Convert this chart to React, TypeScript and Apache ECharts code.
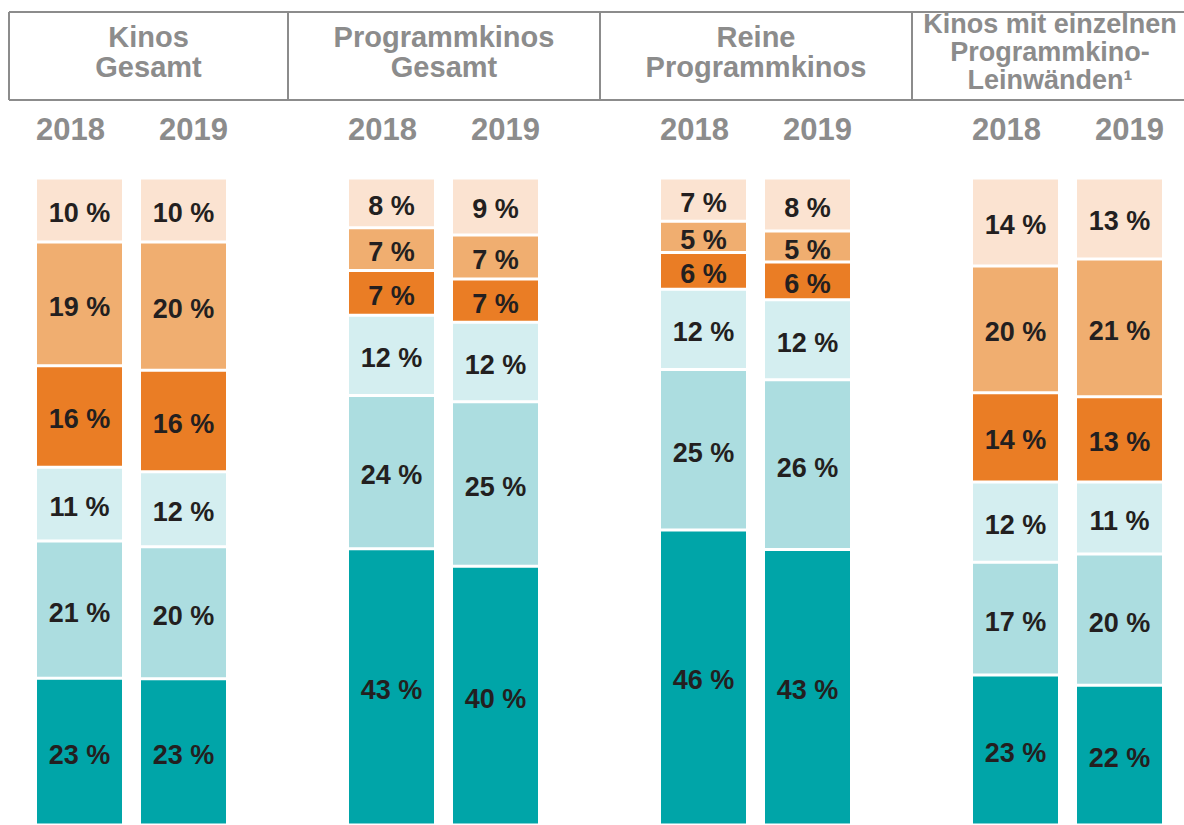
import React, { useEffect, useRef } from "react";
import * as echarts from "echarts";

const groupTitles = [
  "Kinos\nGesamt",
  "Programmkinos\nGesamt",
  "Reine\nProgrammkinos",
  "Kinos mit einzelnen\nProgrammkino-\nLeinwänden¹",
];
const years = ["2018", "2019"];

// bar order: G1-2018, G1-2019, G2-2018, G2-2019, G3-2018, G3-2019, G4-2018, G4-2019
const darkTeal = [22.7, 22.6, 42.7, 40.0, 45.6, 42.6, 23.2, 21.6];
const midTeal = [21.2, 20.4, 23.7, 25.4, 24.8, 26.2, 17.4, 20.3];
const lightTeal = [11.4, 11.6, 12.4, 12.3, 12.4, 12.4, 12.4, 11.1];
const darkOrange = [15.7, 15.7, 6.9, 6.7, 5.7, 5.8, 13.8, 13.2];
const midOrange = [19.1, 19.8, 6.6, 6.8, 4.8, 4.8, 19.6, 21.3];
const lightOrange = [9.9, 9.9, 7.7, 8.8, 6.7, 8.2, 13.6, 12.5];

const seriesDefs = [
  { name: "Segment 1", values: darkTeal, color: "#00a5a8" },
  { name: "Segment 2", values: midTeal, color: "#acdde0" },
  { name: "Segment 3", values: lightTeal, color: "#d4eef0" },
  { name: "Segment 4", values: darkOrange, color: "#ea7d25" },
  { name: "Segment 5", values: midOrange, color: "#f0ae70" },
  { name: "Segment 6", values: lightOrange, color: "#fbe3d1" },
];

const FONT = "Arial, 'Liberation Sans', Helvetica, sans-serif";
const GRAY = "#8c8c8c";

export default function App() {
  const ref = useRef<HTMLDivElement>(null);
  useEffect(() => {
    if (!ref.current) return;
    const chart = echarts.init(ref.current, undefined, { renderer: "svg" });

    // build category slots: 2 bars per group, an empty slot between groups
    const categories: string[] = [];
    const slotToBar: (number | null)[] = [];
    groupTitles.forEach((_, g) => {
      years.forEach((y, i) => {
        categories.push(y);
        slotToBar.push(g * 2 + i);
      });
      if (g < groupTitles.length - 1) {
        categories.push("");
        slotToBar.push(null);
      }
    });

    const series = seriesDefs.map((s) => ({
      name: s.name,
      type: "bar",
      stack: "total",
      barWidth: 88,
      data: slotToBar.map((b) => (b === null ? "-" : s.values[b])),
      itemStyle: { color: s.color, borderColor: "#ffffff", borderWidth: 1.5 },
      label: {
        show: true,
        position: "inside",
        offset: [0, 3],
        color: "#231f20",
        fontFamily: FONT,
        fontWeight: "bold",
        fontSize: 27,
        formatter: (p: any) => Math.round(p.value) + " %",
      },
    }));

    const boxLeft = 9;
    const dividers = [288, 600, 912];
    const titleCenters = [148.5, 444, 756, 1050];
    const graphics: any[] = [
      { type: "line", shape: { x1: boxLeft, y1: 12, x2: 1184, y2: 12 }, style: { stroke: GRAY, lineWidth: 2 } },
      { type: "line", shape: { x1: boxLeft, y1: 100, x2: 1184, y2: 100 }, style: { stroke: GRAY, lineWidth: 2 } },
      { type: "line", shape: { x1: boxLeft, y1: 12, x2: boxLeft, y2: 100 }, style: { stroke: GRAY, lineWidth: 2 } },
      ...dividers.map((x) => ({
        type: "line",
        shape: { x1: x, y1: 12, x2: x, y2: 100 },
        style: { stroke: GRAY, lineWidth: 2 },
      })),
      ...groupTitles.map((t, i) => ({
        type: "text",
        x: titleCenters[i],
        y: 52,
        style: {
          text: t,
          fill: GRAY,
          font: `bold ${i === 3 ? 27 : 29}px ${FONT}`,
          lineHeight: i === 3 ? 28 : 30,
          align: "center",
          verticalAlign: "middle",
        },
      })),
    ];

    chart.setOption({
      animation: false,
      grid: { left: 27.5, width: 1144, top: 178, height: 650 },
      xAxis: {
        type: "category",
        position: "top",
        data: categories,
        axisLine: { show: false },
        axisTick: { show: false },
        axisLabel: {
          interval: 0,
          margin: 33,
          color: GRAY,
          fontFamily: FONT,
          fontWeight: "bold",
          fontSize: 31,
          formatter: (v: string) =>
            v === years[0] ? `{a|${v}}` : v === years[1] ? `{b|${v}}` : v,
          rich: {
            a: {
              color: GRAY,
              fontFamily: FONT,
              fontWeight: "bold",
              fontSize: 31,
              padding: [0, 18, 0, 0],
            },
            b: {
              color: GRAY,
              fontFamily: FONT,
              fontWeight: "bold",
              fontSize: 31,
              padding: [0, 0, 0, 20],
            },
          },
        },
      },
      yAxis: { type: "value", min: 0, max: 100, show: false },
      series,
      graphic: graphics,
    });
    return () => chart.dispose();
  }, []);
  return (
    <div
      ref={ref}
      style={{ position: "fixed", left: 0, top: 0, width: 1184, height: 825, background: "#fff" }}
    />
  );
}
